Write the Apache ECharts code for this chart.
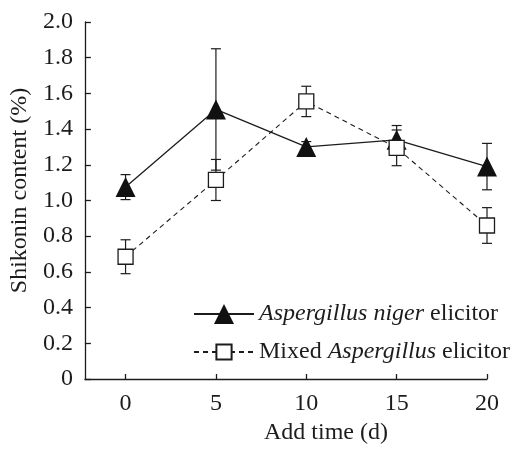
<!DOCTYPE html>
<html>
<head>
<meta charset="utf-8">
<script src="https://cdn.jsdelivr.net/npm/echarts@6/dist/echarts.min.js"></script>
<style>
  html, body { margin: 0; padding: 0; background: #fff; }
  #chart { width: 510px; height: 450px; }
</style>
</head>
<body>
<div id="chart"></div>
<script>
    // data
    var days = [0, 5, 10, 15, 20];
    var nigerMean = [1.075, 1.51, 1.30, 1.34, 1.19];
    var nigerErr = [0.07, 0.34, 0.03, 0.08, 0.13];
    var mixedMean = [0.685, 1.115, 1.555, 1.295, 0.86];
    var mixedErr = [0.095, 0.115, 0.085, 0.10, 0.10];
    var xTicks = [0, 5, 10, 15, 20];

    var FONT = "'Liberation Serif', 'Times New Roman', Times, serif";
    var INK = "#1c1c1c";

    function pairs(ys) {
        return days.map(function (d, i) { return [d, ys[i]]; });
    }
    function bars(ys, es) {
        return days.map(function (d, i) { return [d, ys[i] - es[i], ys[i] + es[i]]; });
    }

    function errorBar(params, api) {
        var x = api.value(0);
        var lo = api.coord([x, api.value(1)]);
        var hi = api.coord([x, api.value(2)]);
        var w = 5;
        var st = { stroke: INK, lineWidth: 1.2 };
        return {
            type: "group",
            children: [
                { type: "line", shape: { x1: hi[0], y1: hi[1], x2: lo[0], y2: lo[1] }, style: st },
                { type: "line", shape: { x1: hi[0] - w, y1: hi[1], x2: hi[0] + w, y2: hi[1] }, style: st },
                { type: "line", shape: { x1: lo[0] - w, y1: lo[1], x2: lo[0] + w, y2: lo[1] }, style: st }
            ]
        };
    }

    var legendText = {
        fontFamily: FONT, fontSize: 24, color: INK,
        rich: { i: { fontFamily: FONT, fontSize: 24, fontStyle: "italic", color: INK } }
    };

    var chart = echarts.init(document.getElementById("chart"));
    chart.setOption({
        animation: false,
        textStyle: { fontFamily: FONT },
        grid: { left: 83, right: 23, top: 22, bottom: 71 },
        legend: [
            {
                data: ["niger"],
                left: 193,
                top: 302,
                padding: 0,
                itemWidth: 60,
                itemHeight: 25,
                formatter: function () { return "{i|Aspergillus niger} elicitor"; },
                textStyle: legendText
            },
            {
                data: ["mixed"],
                left: 193,
                top: 340,
                padding: 0,
                itemWidth: 60,
                itemHeight: 19,
                formatter: function () { return "Mixed {i|Aspergillus} elicitor"; },
                textStyle: legendText
            }
        ],
        xAxis: {
            type: "value",
            min: -2.25,
            max: 20,
            name: "Add time (d)",
            nameLocation: "middle",
            nameGap: 42,
            nameTextStyle: { fontFamily: FONT, fontSize: 24, color: INK, padding: [0, 0, 0, 80] },
            axisLine: { lineStyle: { color: INK, width: 1.3 } },
            axisTick: { inside: true, length: 5, customValues: xTicks, lineStyle: { color: INK, width: 1.3 } },
            axisLabel: { customValues: xTicks, margin: 13, fontFamily: FONT, fontSize: 24, color: INK },
            splitLine: { show: false }
        },
        yAxis: {
            type: "value",
            min: 0,
            max: 2,
            interval: 0.2,
            name: "Shikonin content (%)",
            nameLocation: "middle",
            nameGap: 51,
            nameTextStyle: { fontFamily: FONT, fontSize: 24, color: INK, padding: [0, 0, 0, 20] },
            axisLine: { show: true, onZero: false, lineStyle: { color: INK, width: 1.3 } },
            axisTick: { show: true, inside: true, length: 6, lineStyle: { color: INK, width: 1.3 } },
            axisLabel: {
                margin: 12, fontFamily: FONT, fontSize: 24, color: INK,
                formatter: function (v) { return v === 0 ? "0" : v.toFixed(1); }
            },
            splitLine: { show: false }
        },
        series: [
            {
                name: "nigerErr",
                type: "custom",
                renderItem: errorBar,
                encode: { x: 0, y: [1, 2] },
                data: bars(nigerMean, nigerErr),
                z: 1
            },
            {
                name: "mixedErr",
                type: "custom",
                renderItem: errorBar,
                encode: { x: 0, y: [1, 2] },
                data: bars(mixedMean, mixedErr),
                z: 1
            },
            {
                name: "niger",
                type: "line",
                data: pairs(nigerMean),
                clip: false,
                symbol: "triangle",
                symbolSize: [20, 20],
                lineStyle: { color: INK, width: 1.3, type: "solid" },
                itemStyle: { color: "#111", borderWidth: 0 },
                z: 3
            },
            {
                name: "mixed",
                type: "line",
                data: pairs(mixedMean),
                clip: false,
                symbol: "rect",
                symbolSize: 15,
                lineStyle: { color: INK, width: 1.1, type: [5, 4] },
                itemStyle: { color: "#fff", borderColor: INK, borderWidth: 1.3 },
                z: 4
            }
        ]
    });
</script>
</body>
</html>
